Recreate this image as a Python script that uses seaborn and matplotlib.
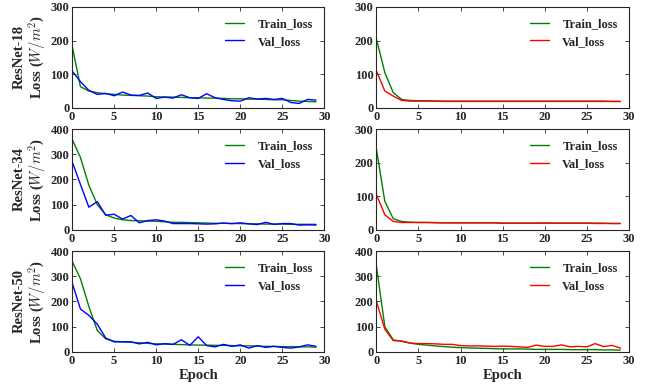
import numpy as np
import pandas as pd
import seaborn as sns
import matplotlib.pyplot as plt

# ______________________________________________________________________________

# Loss curves, one list per series
epochs = list(range(30))
models = ['ResNet-18', 'ResNet-34', 'ResNet-50']

r18_left_train = [185, 63, 50, 45, 42, 40, 38, 37, 36, 35, 33, 32, 32, 31, 30,
                  30, 29, 29, 28, 27, 27, 26, 26, 25, 24, 24, 22, 20, 19, 18]
r18_left_val = [110, 78, 52, 40, 43, 36, 47, 38, 37, 44, 28, 32, 29, 39, 30,
                28, 42, 30, 25, 21, 20, 30, 26, 28, 25, 28, 16, 13, 25, 23]
r18_right_train = [205, 105, 45, 25, 22, 21, 21, 20, 20, 20, 20, 20, 20, 20, 20,
                   20, 20, 20, 20, 20, 20, 20, 20, 20, 20, 20, 20, 20, 19, 19]
r18_right_val = [110, 50, 35, 22, 20, 20, 20, 20, 19, 19, 19, 19, 19, 19, 19,
                 19, 19, 19, 19, 19, 19, 19, 19, 19, 19, 19, 19, 19, 19, 19]

r34_left_train = [360, 287, 177, 100, 60, 47, 40, 37, 36, 35, 34, 32, 30, 30, 29,
                  28, 27, 26, 26, 25, 25, 24, 24, 23, 23, 23, 22, 22, 22, 22]
r34_left_val = [272, 180, 90, 112, 58, 62, 43, 57, 28, 37, 40, 35, 25, 25, 25,
                24, 23, 24, 27, 25, 28, 24, 21, 30, 22, 25, 25, 19, 20, 19]
r34_right_train = [240, 85, 33, 25, 23, 22, 22, 21, 21, 21, 21, 21, 21, 21, 21,
                   20, 20, 20, 20, 20, 20, 20, 20, 20, 20, 20, 20, 20, 19, 19]
r34_right_val = [105, 45, 25, 22, 22, 22, 22, 22, 21, 21, 21, 21, 21, 21, 21,
                 20, 20, 20, 20, 20, 21, 20, 20, 20, 20, 20, 19, 19, 19, 19]

r50_left_train = [360, 290, 180, 85, 52, 42, 40, 38, 36, 34, 32, 31, 30, 29, 28,
                  27, 27, 26, 26, 25, 24, 24, 23, 22, 22, 21, 21, 20, 20, 19]
r50_left_val = [275, 170, 145, 110, 55, 40, 40, 40, 32, 38, 28, 33, 30, 48, 26,
                60, 25, 20, 30, 22, 28, 15, 25, 18, 22, 18, 15, 20, 28, 22]
r50_right_train = [340, 100, 48, 42, 35, 30, 27, 24, 21, 19, 17, 16, 15, 14, 13,
                   12, 12, 12, 11, 10, 10, 10, 10, 9, 9, 9, 9, 8, 8, 7]
r50_right_val = [200, 90, 45, 43, 35, 33, 33, 32, 30, 30, 25, 24, 24, 23, 22,
                 23, 22, 20, 18, 27, 22, 22, 28, 20, 22, 20, 33, 21, 26, 15]

panels = [
    [(r18_left_train, r18_left_val, 300), (r18_right_train, r18_right_val, 300)],
    [(r34_left_train, r34_left_val, 400), (r34_right_train, r34_right_val, 300)],
    [(r50_left_train, r50_left_val, 400), (r50_right_train, r50_right_val, 400)],
]

# ______________________________________________________________________________

sns.set_style('ticks')
plt.rcParams['font.family'] = ['Liberation Serif', 'DejaVu Serif']
plt.rcParams['font.weight'] = 'bold'
plt.rcParams['mathtext.fontset'] = 'cm'

fig, axes = plt.subplots(3, 2, figsize=(6.55, 3.88), dpi=100)
fig.subplots_adjust(left=0.11, right=0.96, bottom=0.093, top=0.982,
                    wspace=0.206, hspace=0.21)

val_colors = ['#0000ff', '#ff0000']

for i, row in enumerate(panels):
    for j, (train, val, ymax) in enumerate(row):
        ax = axes[i, j]
        df = pd.DataFrame({'epoch': epochs, 'Train_loss': train, 'Val_loss': val})
        sns.lineplot(data=df, x='epoch', y='Train_loss', ax=ax, color='#008000',
                     linewidth=1.0, label='Train_loss')
        sns.lineplot(data=df, x='epoch', y='Val_loss', ax=ax, color=val_colors[j],
                     linewidth=1.0, label='Val_loss')
        ax.set_xlim(0, 30)
        ax.set_ylim(0, ymax)
        ax.set_xticks(np.arange(0, 31, 5))
        ax.set_yticks(np.arange(0, ymax + 1, 100))
        ax.tick_params(direction='in', top=True, right=True, labelsize=9,
                       length=3, width=0.6, pad=2)
        for lab in ax.get_xticklabels() + ax.get_yticklabels():
            lab.set_fontweight('bold')
        for spine in ax.spines.values():
            spine.set_linewidth(0.8)
        ax.legend(loc='upper right', frameon=False, fontsize=9,
                  handlelength=1.5, handletextpad=1.1, borderaxespad=0.5,
                  labelspacing=0.45)
        if j == 0:
            ax.set_ylabel(models[i] + '\nLoss ($W/m^2$)', fontsize=10.5,
                          fontweight='bold', labelpad=2, linespacing=1.0)
        else:
            ax.set_ylabel('')
        if i == 2:
            ax.set_xlabel('Epoch', fontsize=10.5, fontweight='bold', labelpad=2)
        else:
            ax.set_xlabel('')

fig.savefig('out.png', dpi=100)
